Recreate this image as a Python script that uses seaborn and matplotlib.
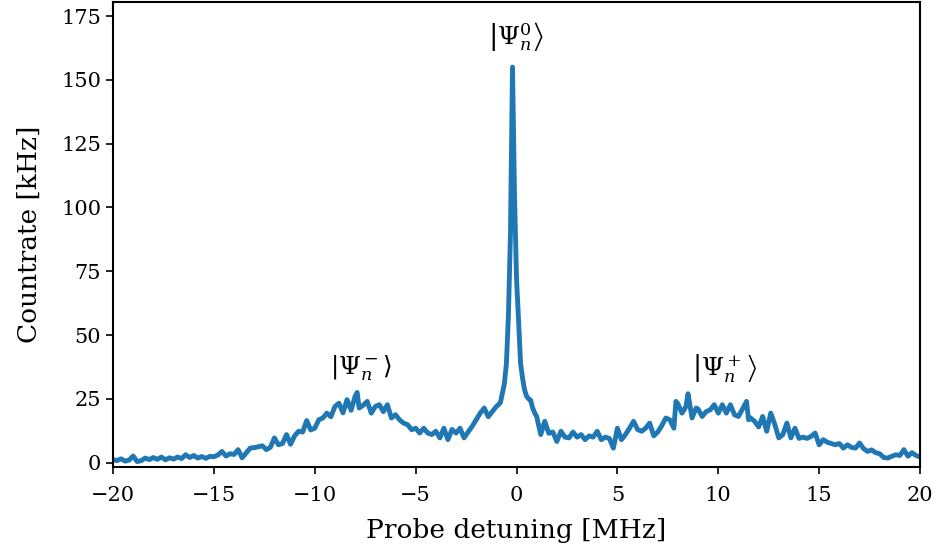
import seaborn as sns
import matplotlib.pyplot as plt
import numpy as np
import pandas as pd

# probe detuning [MHz] and countrate [kHz]
detuning = [
    -20.0, -19.8, -19.6, -19.4, -19.2, -19.0, -18.8, -18.6, -18.4, -18.2,
    -18.0, -17.8, -17.6, -17.4, -17.2, -17.0, -16.8, -16.6, -16.4, -16.2,
    -16.0, -15.8, -15.6, -15.4, -15.2, -15.0, -14.8, -14.6, -14.4, -14.2,
    -14.0, -13.8, -13.6, -13.4, -13.2, -13.0, -12.8, -12.6, -12.4, -12.2,
    -12.0, -11.8, -11.6, -11.4, -11.2, -11.0, -10.8, -10.6, -10.4, -10.2,
    -10.0, -9.8, -9.6, -9.4, -9.2, -9.0, -8.8, -8.6, -8.4, -8.2,
    -8.0, -7.9, -7.8, -7.6, -7.4, -7.2, -7.0, -6.8, -6.6, -6.4,
    -6.2, -6.0, -5.8, -5.6, -5.4, -5.2, -5.0, -4.8, -4.6, -4.4,
    -4.2, -4.0, -3.8, -3.6, -3.4, -3.2, -3.0, -2.8, -2.6, -2.4,
    -2.2, -2.0, -1.8, -1.6, -1.4, -1.2, -1.0, -0.9, -0.8, -0.7,
    -0.6, -0.5, -0.4, -0.3, -0.2, -0.1, 0.0, 0.1, 0.2, 0.3,
    0.4, 0.5, 0.6, 0.7, 0.8, 0.9, 1.0, 1.2, 1.4, 1.6,
    1.8, 2.0, 2.2, 2.4, 2.6, 2.8, 3.0, 3.2, 3.4, 3.6,
    3.8, 4.0, 4.2, 4.4, 4.6, 4.8, 5.0, 5.2, 5.4, 5.6,
    5.8, 6.0, 6.2, 6.4, 6.6, 6.8, 7.0, 7.2, 7.4, 7.6,
    7.8, 7.9, 8.0, 8.2, 8.4, 8.5, 8.7, 8.9, 9.0, 9.2,
    9.4, 9.6, 9.8, 10.0, 10.2, 10.4, 10.6, 10.8, 11.0, 11.2,
    11.4, 11.5, 11.6, 11.8, 12.0, 12.2, 12.4, 12.6, 12.8, 13.0,
    13.2, 13.4, 13.6, 13.8, 14.0, 14.2, 14.4, 14.6, 14.8, 15.0,
    15.2, 15.4, 15.6, 15.8, 16.0, 16.2, 16.4, 16.6, 16.8, 17.0,
    17.2, 17.4, 17.6, 17.8, 18.0, 18.2, 18.4, 18.6, 18.8, 19.0,
    19.2, 19.4, 19.6, 19.8, 20.0,
]
countrate = [
    1.2, 0.8, 1.5, 0.6, 1.0, 2.6, 0.4, 0.8, 1.8, 1.2,
    2.0, 1.3, 2.2, 1.1, 1.9, 1.4, 2.2, 1.6, 3.1, 2.0,
    2.8, 1.8, 2.4, 1.7, 2.5, 2.3, 3.0, 4.4, 2.6, 3.5,
    3.2, 5.1, 1.9, 3.8, 5.7, 5.9, 6.2, 6.6, 5.1, 6.0,
    9.7, 7.0, 7.5, 11.0, 7.2, 10.5, 12.3, 12.0, 16.5, 12.8,
    13.5, 16.8, 17.5, 19.4, 18.0, 22.0, 23.3, 19.5, 24.7, 20.5,
    26.0, 27.5, 21.4, 22.5, 24.0, 19.4, 22.0, 22.7, 20.0, 22.7,
    17.5, 18.8, 16.8, 15.5, 14.9, 12.9, 13.5, 11.6, 13.5, 11.6,
    11.0, 12.3, 9.7, 13.5, 9.0, 13.0, 11.6, 13.5, 9.7, 12.0,
    14.2, 16.8, 19.4, 21.4, 18.0, 20.0, 22.0, 22.7, 23.5, 27.3,
    31.0, 39.0, 58.0, 90.0, 155.0, 105.0, 72.0, 56.0, 39.0, 33.0,
    28.5, 26.0, 25.0, 24.5, 21.4, 19.5, 18.0, 11.0, 16.2, 11.5,
    12.0, 8.3, 12.3, 10.0, 9.7, 12.0, 10.0, 11.0, 9.0, 10.5,
    10.0, 12.3, 9.0, 10.0, 9.5, 5.7, 13.5, 9.0, 11.0, 13.5,
    16.2, 13.0, 12.3, 13.5, 15.5, 10.5, 12.0, 14.5, 17.5, 16.8,
    13.5, 24.0, 23.0, 19.4, 22.0, 27.0, 17.5, 21.4, 21.0, 18.1,
    20.0, 20.7, 22.7, 19.4, 22.7, 19.4, 22.7, 18.8, 18.1, 21.0,
    24.0, 16.8, 17.5, 16.2, 14.0, 18.1, 12.3, 19.4, 15.0, 9.7,
    11.0, 15.5, 9.7, 13.5, 9.5, 10.0, 9.5, 10.3, 11.6, 7.0,
    9.0, 8.0, 7.5, 7.0, 7.5, 5.7, 7.0, 6.0, 5.7, 7.7,
    5.5, 4.4, 5.0, 3.9, 3.5, 2.0, 1.8, 2.5, 3.1, 2.8,
    5.1, 2.5, 3.9, 2.8, 2.2,
]

state_labels = [r'$\left|\Psi_n^-\right\rangle$', r'$\left|\Psi_n^0\right\rangle$',
                r'$\left|\Psi_n^+\right\rangle$']
label_x = [-7.7, 0.0, 10.3]
label_y = [37, 167, 37]

sns.set_style('ticks')
plt.rcParams['font.family'] = ['DejaVu Serif']
plt.rcParams['mathtext.fontset'] = 'dejavuserif'
plt.rcParams['text.color'] = 'black'
plt.rcParams['axes.labelcolor'] = 'black'
plt.rcParams['xtick.color'] = 'black'
plt.rcParams['ytick.color'] = 'black'

df = pd.DataFrame({'detuning': detuning, 'countrate': countrate})

fig = plt.figure(figsize=(9.37, 5.58), dpi=100)
ax = fig.add_axes([0.1206, 0.1631, 0.8613, 0.8333])
sns.lineplot(data=df, x='detuning', y='countrate', ax=ax,
             color='#1f77b4', linewidth=3.5, estimator=None, sort=False)

for lab, lx, ly in zip(state_labels, label_x, label_y):
    ax.text(lx, ly, lab, ha='center', va='center', fontsize=18, color='black')

ax.set_xlim(-20, 20)
ax.set_ylim(-1.7, 180.5)
ax.set_xticks(np.arange(-20, 21, 5))
ax.set_yticks(np.arange(0, 176, 25))
ax.set_xlabel('Probe detuning [MHz]', fontsize=19, labelpad=9)
ax.set_ylabel('Countrate [kHz]', fontsize=19, labelpad=14)
ax.tick_params(labelsize=15, width=1.2, length=5, color='black')
ax.tick_params(axis='x', pad=9)
for s in ax.spines.values():
    s.set_visible(True)
    s.set_color('black')
    s.set_linewidth(1.5)

plt.savefig('out.png', dpi=100)
